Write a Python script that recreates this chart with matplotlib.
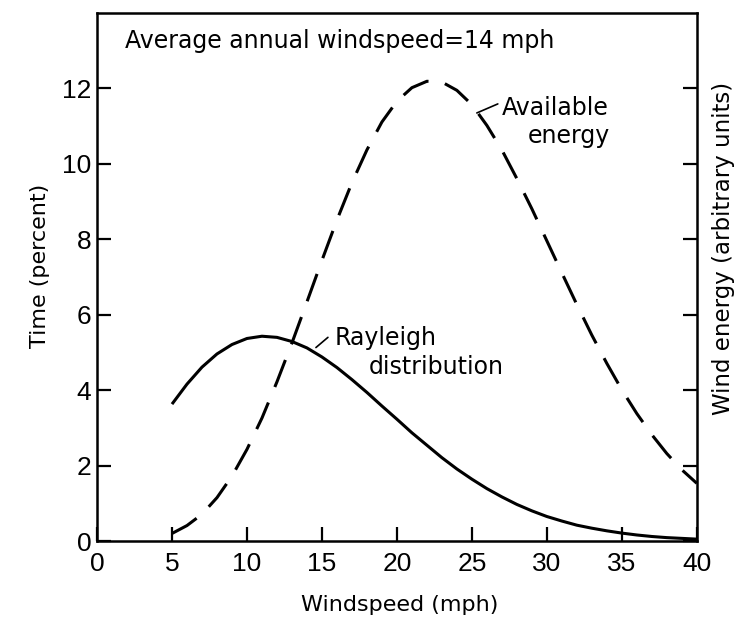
import matplotlib
matplotlib.use('Agg')
import matplotlib.pyplot as plt

# windspeed in mph
windspeed = [5, 6, 7, 8, 9, 10, 11, 12, 13, 14, 15, 16, 17, 18, 19, 20, 21, 22,
             23, 24, 25, 26, 27, 28, 29, 30, 31, 32, 33, 34, 35, 36, 37, 38, 39, 40]

# percent of time at each windspeed (Rayleigh, mean 14 mph)
rayleigh = [3.63, 4.16, 4.61, 4.96, 5.21, 5.37, 5.43, 5.40, 5.29, 5.12, 4.88, 4.60,
            4.28, 3.94, 3.58, 3.23, 2.87, 2.54, 2.21, 1.91, 1.64, 1.39, 1.17, 0.97,
            0.80, 0.65, 0.53, 0.42, 0.34, 0.27, 0.21, 0.16, 0.12, 0.09, 0.07, 0.05]

# available energy, arbitrary units
energy = [0.20, 0.41, 0.71, 1.15, 1.72, 2.43, 3.26, 4.22, 5.25, 6.34, 7.44, 8.51,
          9.50, 10.37, 11.11, 11.66, 12.02, 12.19, 12.17, 11.95, 11.57, 11.02, 10.37,
          9.61, 8.81, 7.96, 7.11, 6.27, 5.46, 4.71, 4.01, 3.38, 2.82, 2.32, 1.89, 1.53]

x_ticks = [0, 5, 10, 15, 20, 25, 30, 35, 40]
y_ticks = [0, 2, 4, 6, 8, 10, 12]

txt_font = ['DejaVu Sans']
tick_font = ['Liberation Sans', 'DejaVu Sans']

fig = plt.figure(figsize=(7.35, 6.2), dpi=100)
ax1 = fig.add_axes([0.132, 0.1274, 0.816, 0.8516])

ax1.plot(windspeed, rayleigh, color='black', linewidth=2.2, solid_capstyle='butt')
ax1.plot(windspeed, energy, color='black', linewidth=2.2, linestyle=(0, (9.5, 5.5)))

ax1.set_xlim(0, 40)
ax1.set_ylim(0, 14)

for s in ax1.spines.values():
    s.set_linewidth(1.8)

ax1.set_xticks(x_ticks)
ax1.set_yticks(y_ticks)
ax1.tick_params(axis='both', direction='in', length=10, width=1.6, colors='black')
ax1.tick_params(axis='y', right=True, pad=4)
ax1.tick_params(axis='x', pad=8)
for lab in ax1.get_xticklabels() + ax1.get_yticklabels():
    lab.set_family(tick_font)
    lab.set_fontsize(19)

ax1.text(1.87, 13.07, 'Average annual windspeed=14 mph', fontsize=17, family=txt_font)

ax1.text(15.87, 5.19, 'Rayleigh', fontsize=17, family=txt_font)
ax1.text(18.13, 4.44, 'distribution', fontsize=17, family=txt_font)
ax1.annotate('', xy=(14.6, 5.13), xytext=(15.4, 5.40),
             arrowprops=dict(arrowstyle='-', color='black', linewidth=1.2, shrinkA=0, shrinkB=0))

ax1.text(27.0, 11.3, 'Available', fontsize=17, family=txt_font)
ax1.text(34.2, 10.56, 'energy', fontsize=17, family=txt_font, ha='right')
ax1.annotate('', xy=(25.33, 11.35), xytext=(26.73, 11.59),
             arrowprops=dict(arrowstyle='-', color='black', linewidth=1.2, shrinkA=0, shrinkB=0))

fig.text(0.544, 0.024, 'Windspeed (mph)', fontsize=16, family=txt_font,
         ha='center', va='center')
fig.text(0.054, 0.571, 'Time (percent)', fontsize=16, family=txt_font,
         ha='center', va='center', rotation=90)
fig.text(0.985, 0.6, 'Wind energy (arbitrary units)', fontsize=16.5, family=txt_font,
         ha='center', va='center', rotation=90)

plt.savefig('out.png', dpi=100)
